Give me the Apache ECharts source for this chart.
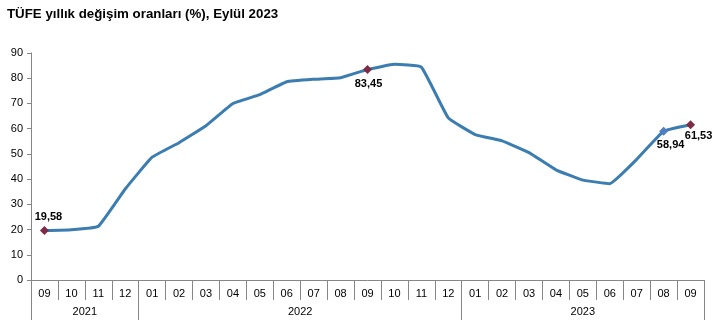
<!DOCTYPE html>
<html>
<head>
<meta charset="utf-8">
<script src="https://cdn.jsdelivr.net/npm/echarts@6/dist/echarts.min.js"></script>
<style>html,body{margin:0;padding:0;background:#fff}#c{width:720px;height:334px}</style>
</head>
<body>
<div id="c"></div>
<script>
var months = ['09','10','11','12','01','02','03','04','05','06','07','08','09','10','11','12','01','02','03','04','05','06','07','08','09'];
var years = ['2021','2022','2023'];
var yearCounts = [4, 12, 9];
var values = [19.58,19.89,21.31,36.08,48.69,54.44,61.14,69.97,73.50,78.62,79.60,80.21,83.45,85.51,84.39,64.27,57.68,55.18,50.51,43.68,39.59,38.21,47.83,58.94,61.53];
var yTicks = [0,10,20,30,40,50,60,70,80,90];
var labeledIdx = [0, 12, 23, 24];
var labelPos = ['top', 'bottom', 'bottom', 'bottom'];
var labelOffset = [[4,0],[1,0],[7,0],[8,-3]];
var markerColors = ['#7e2c45', '#7e2c45', '#4f7fc0', '#7e2c45'];

var gridColor = '#868686';
var lineColor = '#3b7db0';

var bounds = [0];
var yearCenters = [];
var acc = 0;
yearCounts.forEach(function (n) { yearCenters.push(acc + n / 2); acc += n; bounds.push(acc); });

var seriesData = values.map(function (v, i) {
  var k = labeledIdx.indexOf(i);
  if (k < 0) return { value: v, symbolSize: 0, label: { show: false } };
  return {
    value: v,
    symbol: 'diamond',
    symbolSize: 9,
    itemStyle: { color: markerColors[k] },
    label: {
      show: true, position: labelPos[k], offset: labelOffset[k], distance: 4,
      fontWeight: 'bold', fontSize: 11, color: '#000', fontFamily: 'Liberation Sans, Arial',
      formatter: function (p) { return p.value.toFixed(2).replace('.', ','); }
    }
  };
});

var chart = echarts.init(document.getElementById('c'));
chart.setOption({
  animation: false,
  title: {
    text: 'TÜFE yıllık değişim oranları (%), Eylül 2023',
    left: 2, top: 3,
    textStyle: { fontFamily: 'Liberation Sans, Arial', fontSize: 13.3, fontWeight: 'bold', color: '#000' }
  },
  grid: { left: 31, right: 16, top: 53, bottom: 54, containLabel: false },
  xAxis: [{
    type: 'category',
    data: months,
    boundaryGap: true,
    position: 'bottom',
    axisLine: { lineStyle: { color: gridColor, width: 1 } },
    axisTick: { show: true, length: 20, interval: 0, lineStyle: { color: gridColor } },
    axisLabel: { interval: 0, margin: 8, fontSize: 11, color: '#000', fontFamily: 'Liberation Sans, Arial' }
  }, {
    type: 'value',
    min: 0, max: months.length,
    position: 'bottom',
    offset: 20,
    axisLine: { show: false },
    splitLine: { show: false },
    axisTick: { show: true, length: 20, customValues: bounds, lineStyle: { color: gridColor } },
    axisLabel: {
      customValues: yearCenters, margin: 6, fontSize: 11, color: '#000', fontFamily: 'Liberation Sans, Arial',
      formatter: function (v) { var k = yearCenters.indexOf(v); return k >= 0 ? years[k] : ''; }
    }
  }],
  yAxis: {
    type: 'value',
    min: yTicks[0], max: yTicks[yTicks.length - 1], interval: 10,
    axisLine: { show: true, lineStyle: { color: gridColor } },
    axisTick: { show: true, length: 4, lineStyle: { color: gridColor } },
    splitLine: { show: false },
    axisLabel: { margin: 8, fontSize: 11, color: '#000', fontFamily: 'Liberation Sans, Arial' }
  },
  series: [{
    type: 'line',
    xAxisIndex: 0,
    data: seriesData,
    smooth: 0.1,
    symbol: 'diamond',
    showSymbol: true,
    lineStyle: { color: lineColor, width: 3 },
    itemStyle: { color: lineColor },
    z: 3
  }]
});
</script>
</body>
</html>
